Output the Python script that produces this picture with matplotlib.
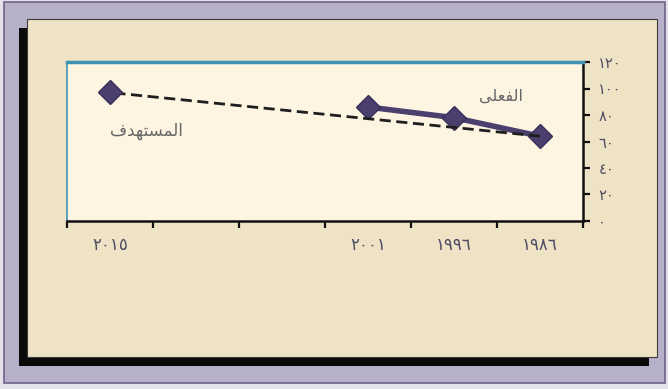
import matplotlib
matplotlib.use('Agg')
import matplotlib.pyplot as plt
from matplotlib.patches import Rectangle
import numpy as np

# Years on a category axis, read right-to-left (earliest year on the right)
year_labels = ['١٩٨٦', '١٩٩٦', '٢٠٠١', '', '', '٢٠١٥']

# Actual values (1986, 1996, 2001)
actual_idx = [0, 1, 2]
actual_vals = [64, 78, 86]

# Target trend: from 1986 to the 2015 goal
target_idx = [0, 5]
target_vals = [64, 97]

y_ticks = [0, 20, 40, 60, 80, 100, 120]
y_labels = ['٠', '٢٠', '٤٠', '٦٠', '٨٠', '١٠٠', '١٢٠']

# Arabic series names, written in visual order with presentation forms
# because matplotlib does not shape right-to-left text itself
label_actual = 'ﻰﻠﻌﻔﻟﺍ'      # الفعلى
label_target = 'ﻑﺪﻬﺘﺴﻤﻟﺍ'    # المستهدف

plt.rcParams['font.family'] = ['DejaVu Sans']

W, H = 668, 389
fig = plt.figure(figsize=(W / 100, H / 100), dpi=100)
fig.patch.set_facecolor('#e4e1ea')


def box(x0, y0, x1, y1, **kw):
    """Rectangle given in pixel coordinates measured from the top-left corner."""
    r = Rectangle((x0 / W, 1 - y1 / H), (x1 - x0) / W, (y1 - y0) / H,
                  transform=fig.transFigure, zorder=-10, **kw)
    fig.patches.append(r)


# Frame: lavender mat, black drop shadow, cream card
box(4, 2, 665, 383, facecolor='#b7b0c9', edgecolor='#6e6289', lw=1.2)
box(19, 28, 649, 366, facecolor='#0a0a0a', edgecolor='none')
box(27, 19, 657, 357, facecolor='#efe3c6', edgecolor='#3a3a3a', lw=0.8)

ax = fig.add_axes([67 / W, 1 - 221 / H, (583 - 67) / W, (221 - 62) / H])
ax.set_zorder(5)
ax.set_facecolor('#fdf5e2')
ax.set_xlim(len(year_labels), 0)
ax.set_ylim(0, 120)

# Spines
ax.spines['top'].set_color('#3d93b3')
ax.spines['top'].set_linewidth(2.5)
ax.spines['left'].set_color('#3d93b3')
ax.spines['left'].set_linewidth(1.2)
for s in ('right', 'bottom'):
    ax.spines[s].set_color('#111111')
    ax.spines[s].set_linewidth(1.8)

tick_color = '#4f4d63'

# Y axis on the right
ax.yaxis.tick_right()
ax.set_yticks(y_ticks)
ax.set_yticklabels(y_labels, fontsize=10.5, color=tick_color)
ax.tick_params(axis='y', direction='out', length=5, width=1.6, pad=6,
               color='#111111')

# X axis: boundary ticks as major, labels centred on categories as minor
ax.set_xticks(np.arange(len(year_labels) + 1))
ax.set_xticklabels([])
ax.set_xticks(np.arange(len(year_labels)) + 0.5, minor=True)
ax.set_xticklabels(year_labels, minor=True, fontsize=12, color=tick_color)
ax.tick_params(axis='x', which='major', direction='out', length=5, width=1.6,
               color='#111111')
ax.tick_params(axis='x', which='minor', length=0, pad=11)

xa = np.array(actual_idx) + 0.5
xt = np.array(target_idx) + 0.5

ax.plot(xa, actual_vals, color='#4b3f6e', lw=4, marker='D', ms=12,
        mfc='#4b3f6e', mec='#3a2f5a', zorder=3, clip_on=False)
ax.plot(xt, target_vals, color='#1e1e1e', lw=2, ls=(0, (4, 2)),
        marker='D', ms=12, mfc='#4b3f6e', mec='#3a2f5a', markevery=[1],
        zorder=4, clip_on=False)

ax.text(0.95, 94, label_actual, ha='center', va='center', fontsize=11.5,
        color='#666666')
ax.text(5.08, 68, label_target, ha='center', va='center', fontsize=12,
        color='#666666')

fig.savefig('out.png', dpi=100, facecolor=fig.get_facecolor())
